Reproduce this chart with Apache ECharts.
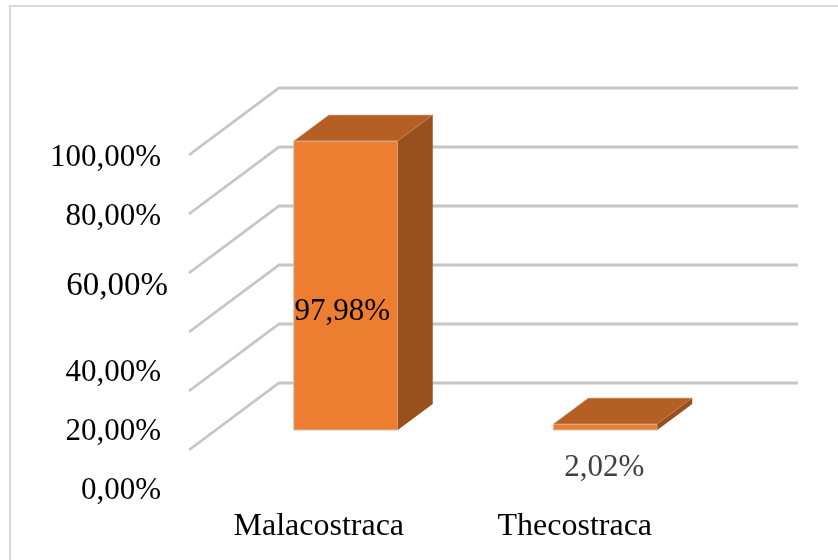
<!DOCTYPE html>
<html>
<head>
<meta charset="utf-8">
<style>html,body{margin:0;padding:0;background:#fff}#c{width:838px;height:560px}</style>
<script src="https://cdn.jsdelivr.net/npm/echarts@6/dist/echarts.min.js"></script>
</head>
<body>
<div id="c"></div>
<script>
var categories = ['Malacostraca', 'Thecostraca'];
var values = [97.98, 2.02];
var valueLabels = ['97,98%', '2,02%'];
var tickValues = [0, 20, 40, 60, 80, 100];
var tickLabels = ['0,00%', '20,00%', '40,00%', '60,00%', '80,00%', '100,00%'];

// layout of the pseudo-3D box
var wallDepth = [90, -67];
var barPlane = [27, -20];
var barDepth = [35, -26];
var barHalfWidth = 52;
var labelShift = [41, 41, 41, 13, 3, 3];
var labelSize = [31, 31, 31, 33, 31, 31];
var labelRightPad = [7, 7, 7, 0, 7, 7];
var categoryRightPad = [0, 7];

var rich = {};
tickValues.forEach(function (v, i) {
  rich['t' + i] = {
    fontFamily: 'Liberation Serif', fontSize: labelSize[i], color: '#000',
    padding: [labelShift[i] * 2, labelRightPad[i], 0, 0]
  };
});
var catRich = {};
categories.forEach(function (c, i) {
  catRich['c' + i] = {
    fontFamily: 'Liberation Serif', fontSize: 32, color: '#000',
    padding: [0, categoryRightPad[i], 0, 0]
  };
});

function renderWalls(params, api) {
  var cs = params.coordSys;
  var p = api.coord([0, api.value(0)]);
  var y = p[1];
  var x0 = cs.x, x1 = cs.x + cs.width;
  return {
    type: 'polyline',
    shape: { points: [[x0, y], [x0 + wallDepth[0], y + wallDepth[1]], [x1 + wallDepth[0], y + wallDepth[1]]] },
    style: { fill: null, stroke: '#c6c6c6', lineWidth: 2.8 }
  };
}

function renderBars(params, api) {
  var i = api.value(0);
  var top = api.coord([i, api.value(1)]);
  var base = api.coord([i, 0]);
  var l = top[0] + barPlane[0] - barHalfWidth;
  var r = top[0] + barPlane[0] + barHalfWidth;
  var t = top[1] + barPlane[1];
  var b = base[1] + barPlane[1];
  var dx = barDepth[0], dy = barDepth[1];
  return {
    type: 'group',
    children: [
      { type: 'polygon', shape: { points: [[l, t], [r, t], [r, b], [l, b]] },
        style: { fill: '#ed7d31', stroke: '#d2c4b8', lineWidth: 1 } },
      { type: 'polygon', shape: { points: [[l, t], [l + dx, t + dy], [r + dx, t + dy], [r, t]] },
        style: { fill: '#b55f24', stroke: '#c9bdb2', lineWidth: 0.6 } },
      { type: 'polygon', shape: { points: [[r, t], [r + dx, t + dy], [r + dx, b + dy], [r, b]] },
        style: { fill: '#9a501d' } }
    ]
  };
}

function renderValueText(params, api) {
  var i = api.value(0);
  var base = api.coord([i, 0]);
  var big = api.value(1) > 50;
  return {
    type: 'text',
    style: {
      text: valueLabels[i],
      x: base[0] + (big ? 23.5 : 26),
      y: big ? 312 : base[1] + 18,
      align: 'center', verticalAlign: 'middle',
      fontFamily: 'Liberation Serif', fontSize: 31,
      fill: big ? '#000' : '#404040'
    }
  };
}

var chart = echarts.init(document.getElementById('c'), null, { renderer: 'canvas' });
chart.setOption({
  animation: false,
  backgroundColor: '#fff',
  graphic: [{
    type: 'rect', silent: true, z: 0,
    shape: { x: 10, y: 6, width: 900, height: 700 },
    style: { fill: null, stroke: '#d9d9d9', lineWidth: 2 }
  }],
  grid: { left: 189, top: 155, width: 519, height: 295 },
  xAxis: {
    type: 'category', data: categories,
    axisLine: { show: false }, axisTick: { show: false },
    axisLabel: {
      margin: 61, interval: 0,
      formatter: function (v) {
        return '{c' + categories.indexOf(v) + '|' + v + '}';
      },
      rich: catRich
    }
  },
  yAxis: {
    type: 'value', min: 0, max: 100, interval: 20,
    axisLine: { show: false }, axisTick: { show: false }, splitLine: { show: false },
    axisLabel: {
      margin: 21, align: 'right',
      formatter: function (v) {
        var i = tickValues.indexOf(v);
        return '{t' + i + '|' + tickLabels[i] + '}';
      },
      rich: rich
    }
  },
  series: [
    { type: 'custom', coordinateSystem: 'cartesian2d', clip: false, silent: true, z: 1,
      renderItem: renderWalls, data: tickValues.map(function (v) { return [v]; }),
      encode: { y: 0 } },
    { type: 'custom', coordinateSystem: 'cartesian2d', clip: false, silent: true, z: 2,
      renderItem: renderBars, data: values.map(function (v, i) { return [i, v]; }),
      encode: { x: 0, y: 1 } },
    { type: 'custom', coordinateSystem: 'cartesian2d', clip: false, silent: true, z: 3,
      renderItem: renderValueText, data: values.map(function (v, i) { return [i, v]; }),
      encode: { x: 0, y: 1 } }
  ]
});
</script>
</body>
</html>
